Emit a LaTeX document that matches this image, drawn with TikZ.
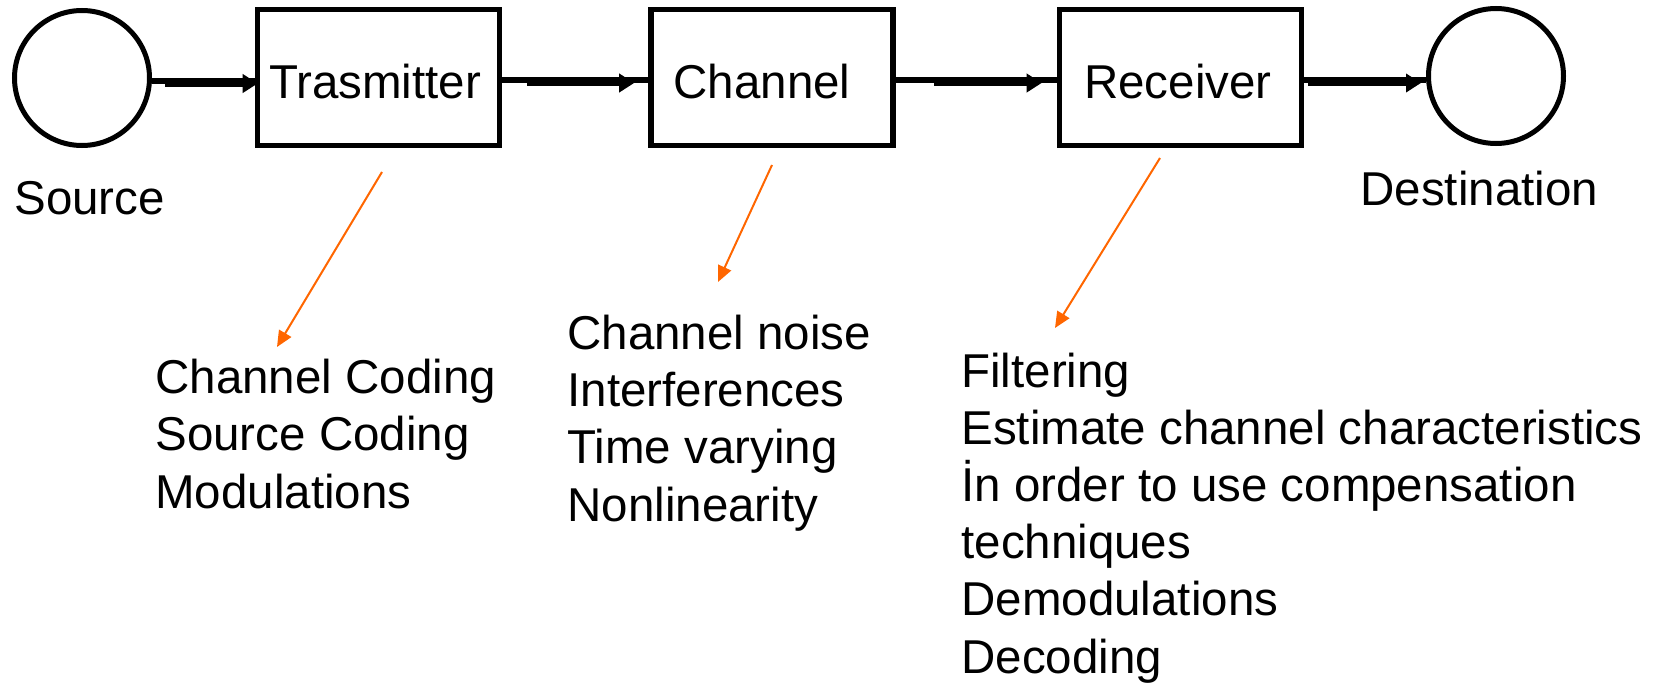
\documentclass[tikz,border=0pt]{standalone}
\usepackage{fontspec}
\setmainfont{Liberation Sans}
\usetikzlibrary{arrows.meta}
\definecolor{noteorange}{RGB}{255,102,0}
\begin{document}
\begin{tikzpicture}[x=0.5pt,y=-0.5pt,
  every node/.style={inner sep=0pt, font=\fontsize{23.75pt}{28.6pt}\selectfont},
  endpoint/.style={circle, draw, line width=2.5pt, outer sep=1.25pt, minimum size=67.5pt},
  block/.style={rectangle, draw, line width=2.75pt, outer sep=1.4pt, minimum width=121pt, minimum height=68pt, text height=20.5pt, text depth=0pt},
  link/.style={line width=3pt},
  flow/.style={line width=3pt, -{Triangle[length=7.5pt,width=9pt]}},
  note/.style={draw=noteorange, line width=1pt, -{Triangle[length=8pt,width=7pt]}},
  lbl/.style={anchor=base west},
  notelist/.style={anchor=base west, align=left}
]
\useasboundingbox (0,0) rectangle (1662,685);

% main chain
\node[endpoint] (src) at (82,78) {};
\node[block] (tx) at (378.5,77.5) {\hspace*{-3.5pt}Trasmitter};
\node[block] (ch) at (772,77.5) {\hspace*{-10pt}Channel};
\node[block] (rx) at (1180.5,77.5) {\hspace*{-2.5pt}Receiver};
\node[endpoint] (dst) at (1496,76) {};

\node[lbl] (srclbl) at (14,214) {Source};
\node[lbl] (dstlbl) at (1360,205) {Destination};

% connectors (thin link + offset arrow)
\draw[link] ([yshift=-1.25pt]src.east) -- ([yshift=-1.25pt]src.east -| tx.west);
\draw[flow] ([xshift=6.5pt,yshift=-2.75pt]src.east) -- ([xshift=1.5pt,yshift=-2.75pt]src.east -| tx.west);

\draw[link] ([yshift=-1.25pt]tx.east) -- ([yshift=-1.25pt]ch.west);
\draw[flow] ([xshift=12.5pt,yshift=-2.75pt]tx.east) -- ([xshift=-7pt,yshift=-2.75pt]ch.west);

\draw[link] ([yshift=-1.25pt]ch.east) -- ([yshift=-1.25pt]rx.west);
\draw[flow] ([xshift=19pt,yshift=-2.75pt]ch.east) -- ([xshift=-7.5pt,yshift=-2.75pt]rx.west);

\draw[link] ([yshift=-1.25pt]rx.east) -- ([yshift=-1.25pt]rx.east -| dst.west);
\draw[flow] ([xshift=2pt,yshift=-2.75pt]rx.east) -- ([xshift=-2.5pt,yshift=-2.75pt]rx.east -| dst.west);

% notes (base anchor = baseline of last line)
\node[notelist] (txnotes) at (155,508) {Channel Coding\\Source Coding\\Modulations};
\node[notelist] (chnotes) at (567,521) {Channel noise\\Interferences\\Time varying\\Nonlinearity};
\node[notelist] (rxnotes) at (961,673) {Filtering\\Estimate channel characteristics\\İn order to use compensation\\techniques\\Demodulations\\Decoding};

\coordinate (txfrom) at (382,172);
\coordinate (txto) at (277,347);
\coordinate (chfrom) at (772,165);
\coordinate (chto) at (718,282);
\coordinate (rxfrom) at (1160,158);
\coordinate (rxto) at (1055,328);
\draw[note] (txfrom) -- (txto);
\draw[note] (chfrom) -- (chto);
\draw[note] (rxfrom) -- (rxto);
\end{tikzpicture}
\end{document}
